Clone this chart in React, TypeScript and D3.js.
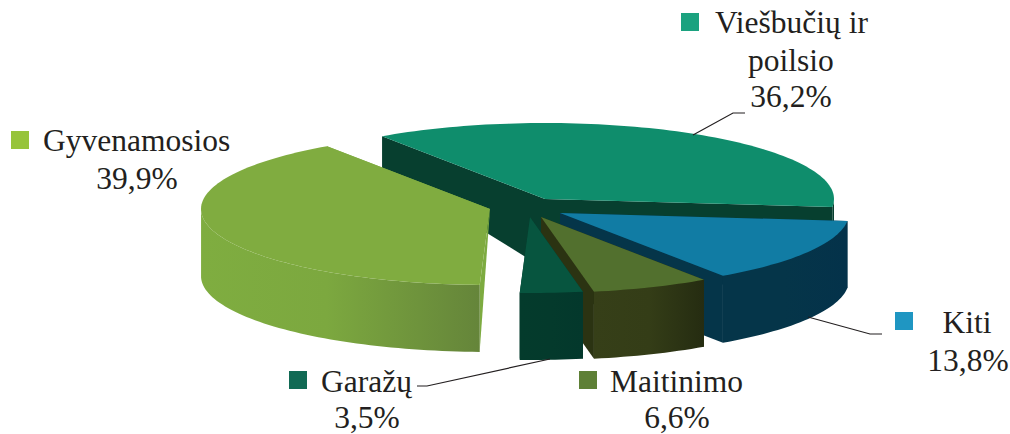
import React from "react";
import * as d3 from "d3";

// ---- data, clockwise from the pie's start angle ----
const categories = ["Kiti", "Maitinimo", "Garažų", "Gyvenamosios", "Viešbučių ir poilsio"];
const shares = [13.8, 6.6, 3.5, 39.9, 36.2];
const shareLabels = ["13,8%", "6,6%", "3,5%", "39,9%", "36,2%"];

// ---- styles and layout, same order ----
const topColors = ["#117ca4", "#52702e", "#07553f", "#80ac40", "#0f8d6c"];
const legendColors = ["#1f96c2", "#5e8036", "#116a54", "#97c43c", "#1ba27f"];
const wallStops = [
  ["#053549", "#053549", "#04324a"],
  ["#363f18", "#343d17", "#252c11"],
  ["#043b2c", "#043a2c", "#03382c"],
  ["#7fad40", "#7ca83f", "#65853a"],
  ["#073f2f", "#073f2f", "#073f2f"],
];
const sideColors = ["#053549", "#2b3312", "#043b2c", "#7dab40", "#073f2f"];
const centres: [number, number][] = [[560, 213], [541, 217], [530, 217], [490, 209], [545, 199]];
const apexDepth = [67, 67, 67, 0, 70];
const startCornerDepth = [67, 67, 67, 66, 32];
const endCornerDepth = [67, 67, 67, 66, 20];
const drawOrder = [4, 0, 1, 2, 3];
const W = 1010, H = 434, RX = 289, RY = 76, DEPTH = 67;
const TEXT = "#231f20";

const squares: [number, number][] = [[895, 312], [579, 371], [289, 371], [11, 131], [681, 13]];
const labels: { t: string; x: number; y: number; a: string }[] = [
  { t: "Viešbučių ir", x: 715, y: 33, a: "start" },
  { t: "poilsio", x: 791, y: 71, a: "middle" },
  { t: shareLabels[4], x: 791, y: 107, a: "middle" },
  { t: "Gyvenamosios", x: 43, y: 151, a: "start" },
  { t: shareLabels[3], x: 137, y: 189, a: "middle" },
  { t: categories[0], x: 967, y: 333, a: "middle" },
  { t: shareLabels[0], x: 968, y: 371, a: "middle" },
  { t: categories[2], x: 321, y: 392, a: "start" },
  { t: shareLabels[2], x: 367, y: 428, a: "middle" },
  { t: categories[1], x: 610, y: 392, a: "start" },
  { t: shareLabels[1], x: 677, y: 428, a: "middle" },
];
const leaders: [number, number][][] = [
  [[745, 113], [733, 113], [693, 135]],
  [[882, 334], [870, 334], [808, 317]],
  [[417, 386], [427, 386], [550, 359]],
];

const deg = Math.PI / 180;
const arcs = d3.pie<number>().sort(null).startAngle(96 * deg).endAngle(456 * deg)(shares);
const lineGen = d3.line();
const closed = (pts: [number, number][]) => lineGen(pts) + "Z";

export default function App() {
  const slices = drawOrder.map((i) => {
    const [cx, cy] = centres[i];
    const a0 = arcs[i].startAngle, a1 = arcs[i].endAngle;
    const px = d3.scaleLinear().domain([-1, 1]).range([cx - RX, cx + RX]);
    const py = d3.scaleLinear().domain([-1, 1]).range([cy - RY, cy + RY]);
    const at = (t: number): [number, number] => [px(Math.sin(t)), py(-Math.cos(t))];
    const n = Math.max(8, Math.ceil((a1 - a0) / (1.5 * deg)));
    const ts = d3.range(n + 1).map((k) => a0 + ((a1 - a0) * k) / n);
    const rim = ts.map(at);
    const top = closed([[cx, cy], ...rim]);
    const down = (p: [number, number], d: number): [number, number] => [p[0], p[1] + d];
    const apex: [number, number] = [cx, cy];
    const wallA = closed([apex, at(a0), down(at(a0), startCornerDepth[i]), down(apex, apexDepth[i])]);
    const wallB = closed([apex, at(a1), down(at(a1), endCornerDepth[i]), down(apex, apexDepth[i])]);
    // outer rim faces the viewer only on the front half of the ellipse
    const front = ts.filter((t) => {
      const m = ((t % (2 * Math.PI)) + 2 * Math.PI) % (2 * Math.PI);
      return m >= 90 * deg && m <= 270 * deg;
    });
    const frontPts = front.map(at);
    const outer = frontPts.length > 1
      ? closed([...frontPts, ...frontPts.slice().reverse().map((p) => down(p, DEPTH))])
      : null;
    const xs = frontPts.map((p) => p[0]);
    return { i, top, wallA, wallB, outer, x0: d3.min(xs) ?? 0, x1: d3.max(xs) ?? 1 };
  });

  return (
    <svg width={W} height={H} viewBox={`0 0 ${W} ${H}`}
      style={{ position: "absolute", left: 0, top: 0, background: "#fff" }}>
      <defs>
        {slices.map((s) => (
          <linearGradient key={s.i} id={`w${s.i}`} gradientUnits="userSpaceOnUse"
            x1={s.x0} x2={s.x1} y1={0} y2={0}>
            {wallStops[s.i].map((c, k) => (
              <stop key={k} offset={k === 1 ? (s.i === 3 ? 0.45 : 0.5) : k / 2} stopColor={c} />
            ))}
          </linearGradient>
        ))}
      </defs>
      {slices.map((s) => (
        <g key={s.i}>
          <path d={s.wallA} fill={sideColors[s.i]} />
          <path d={s.wallB} fill={sideColors[s.i]} />
          {s.outer && <path d={s.outer} fill={`url(#w${s.i})`} />}
          <path d={s.top} fill={topColors[s.i]} />
        </g>
      ))}
      {leaders.map((l, k) => (
        <path key={k} d={lineGen(l) as string} fill="none" stroke="#231f20" strokeWidth={1.2} />
      ))}
      {squares.map((p, i) => (
        <rect key={i} x={p[0]} y={p[1]} width={18} height={18} fill={legendColors[i]} />
      ))}
      {labels.map((l, k) => (
        <text key={k} x={l.x} y={l.y} textAnchor={l.a as any} fill={TEXT}
          fontFamily="'Liberation Serif', serif" fontSize={31.5}>{l.t}</text>
      ))}
    </svg>
  );
}
